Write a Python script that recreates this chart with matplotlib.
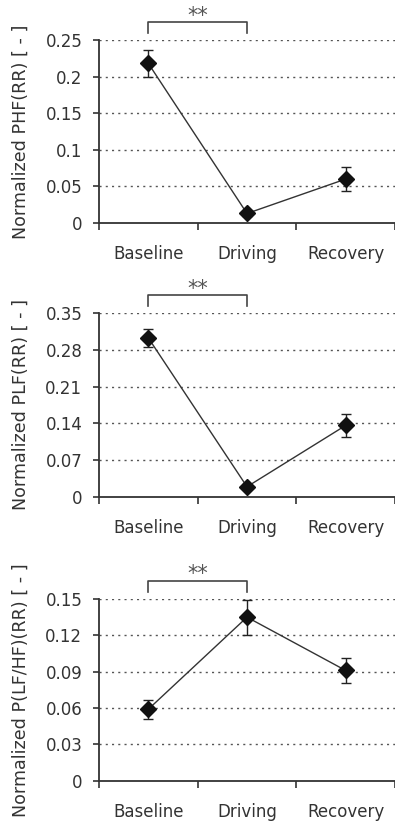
import matplotlib
matplotlib.use('Agg')
import matplotlib.pyplot as plt
import matplotlib.transforms as mtrans

plt.rcParams['font.family'] = ['DejaVu Sans']

categories = ['Baseline', 'Driving', 'Recovery']

phf = [0.218, 0.013, 0.060]
phf_err = [0.018, 0.004, 0.016]
plf = [0.303, 0.019, 0.136]
plf_err = [0.017, 0.005, 0.022]
lfhf = [0.059, 0.135, 0.091]
lfhf_err = [0.008, 0.0145, 0.0105]

ylabels = ['Normalized PHF(RR) [ - ]', 'Normalized PLF(RR) [ - ]',
           'Normalized P(LF/HF)(RR) [ - ]']
yticks = [[0, 0.05, 0.1, 0.15, 0.2, 0.25],
          [0, 0.07, 0.14, 0.21, 0.28, 0.35],
          [0, 0.03, 0.06, 0.09, 0.12, 0.15]]
yticklabels = [['0', '0.05', '0.1', '0.15', '0.2', '0.25'],
               ['0', '0.07', '0.14', '0.21', '0.28', '0.35'],
               ['0', '0.03', '0.06', '0.09', '0.12', '0.15']]
series = [(phf, phf_err), (plf, plf_err), (lfhf, lfhf_err)]

W, H = 395, 823
fig = plt.figure(figsize=(W / 100, H / 100), dpi=100)
# (bottom px, top px) of each panel
boxes = [(223, 40), (496.7, 313.3), (780.7, 599)]
x = [0.5, 1.5, 2.5]

for (vals, errs), yl, yt, ytl, (b, t) in zip(series, ylabels, yticks, yticklabels, boxes):
    ax = fig.add_axes([99 / W, (H - b) / H, (W - 99) / W, (b - t) / H])
    ax.set_xlim(0, 3)
    ax.set_ylim(0, yt[-1])
    for g in yt[1:]:
        ax.axhline(g, color='#555555', lw=1.0, ls=(0, (1.5, 3)), zorder=1)
    ax.plot(x, vals, color='#333333', lw=1.0, zorder=2)
    ax.errorbar(x, vals, yerr=errs, fmt='D', color='#111111', ms=8,
                ecolor='#222222', elinewidth=1.0, capsize=3.5, capthick=1.0, zorder=3)
    for s in ['top', 'right']:
        ax.spines[s].set_visible(False)
    for s in ['left', 'bottom']:
        ax.spines[s].set_color('#333333')
        ax.spines[s].set_linewidth(1.3)
    ax.set_yticks(yt)
    ax.set_yticklabels(ytl, fontsize=12, color='#333333')
    ax.tick_params(axis='y', length=4, width=1.2, pad=8, color='#333333')
    ax.set_xticks([0, 1, 2, 3])
    ax.set_xticklabels([])
    ax.tick_params(axis='x', which='major', length=5, width=1.2, color='#333333')
    ax.set_xticks(x, minor=True)
    ax.set_xticklabels(categories, minor=True, fontsize=12, color='#333333')
    ax.tick_params(axis='x', which='minor', length=0, pad=16)
    ax.set_ylabel(yl, fontsize=12.6, color='#333333', va='center')
    ax.yaxis.set_label_coords((21 - 99) / (W - 99), 0.5)

    # significance bracket
    h = b - t
    tr = mtrans.blended_transform_factory(ax.transData, ax.transAxes)
    ax.plot([0.5, 0.5, 1.5, 1.5], [1 + 7.5 / h, 1 + 18 / h, 1 + 18 / h, 1 + 7.5 / h],
            transform=tr, color='#444444', lw=1.2, clip_on=False)
    ax.text(1.0, 1 + 24.5 / h, '**', transform=tr, ha='center', va='center',
            fontsize=15, color='#555555')

fig.savefig('out.png', dpi=100)
